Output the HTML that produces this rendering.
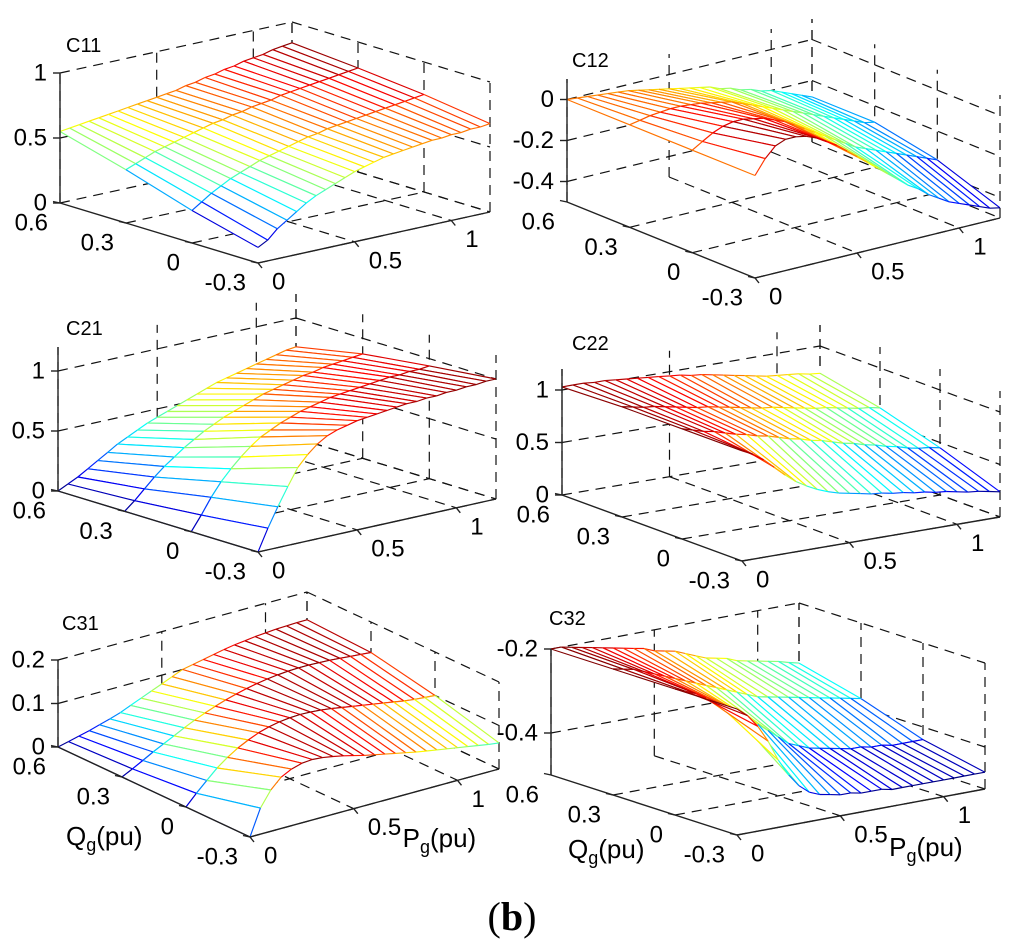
<!DOCTYPE html>
<html><head><meta charset="utf-8"><style>
html,body{margin:0;padding:0;background:#fff;}
svg{display:block;font-family:"Liberation Sans",Arial,sans-serif;}
</style></head><body>
<svg id="fig" width="1024" height="947" viewBox="0 0 1024 947" xmlns="http://www.w3.org/2000/svg">
<rect x="0" y="0" width="1024" height="947" fill="#fff"/>
<text x="512" y="930" text-anchor="middle" font-family="Liberation Serif, serif" font-size="40">(<tspan font-weight="bold">b</tspan>)</text>
</svg>
<script>
const P_VALUES = [0,0.05,0.1,0.15,0.2,0.25,0.3,0.35,0.4,0.45,0.5,0.55,0.6,0.65,0.7,0.75,0.8,0.85,0.9,0.95,1.0,1.05,1.1,1.15,1.2];
const Q_VALUES = [0.6,0.3,0,-0.3];
const P_TICKS = [0,0.5,1];
const P_TICK_LABELS = ['0','0.5','1'];
const Q_TICKS = [0.6,0.3,0,-0.3];
const Q_TICK_LABELS = ['0.6','0.3','0','-0.3'];

const C11_Z = [
[0.55,0.56,0.57,0.58,0.59,0.60,0.61,0.62,0.63,0.64,0.65,0.66,0.67,0.69,0.70,0.72,0.73,0.75,0.76,0.78,0.79,0.80,0.82,0.83,0.84],
[0.41,0.44,0.47,0.50,0.52,0.54,0.56,0.58,0.60,0.62,0.63,0.65,0.66,0.68,0.69,0.70,0.72,0.73,0.74,0.75,0.76,0.77,0.78,0.79,0.80],
[0.25,0.30,0.35,0.39,0.43,0.46,0.49,0.52,0.54,0.56,0.58,0.60,0.62,0.63,0.65,0.66,0.67,0.68,0.69,0.70,0.71,0.72,0.73,0.74,0.75],
[0.12,0.16,0.23,0.28,0.33,0.38,0.42,0.45,0.48,0.51,0.54,0.56,0.58,0.60,0.61,0.62,0.63,0.64,0.65,0.65,0.66,0.66,0.67,0.67,0.68]];
const C12_Z = [
[0,-0.005,-0.01,-0.015,-0.02,-0.025,-0.03,-0.04,-0.05,-0.06,-0.07,-0.08,-0.09,-0.10,-0.11,-0.13,-0.14,-0.16,-0.17,-0.19,-0.20,-0.22,-0.24,-0.26,-0.28],
[0,0.01,0.02,0.025,0.03,0.03,0.025,0.02,0.01,0,-0.01,-0.03,-0.05,-0.07,-0.09,-0.11,-0.13,-0.15,-0.17,-0.19,-0.21,-0.23,-0.25,-0.27,-0.28],
[0,0.03,0.06,0.08,0.09,0.09,0.08,0.07,0.05,0.03,0,-0.03,-0.06,-0.09,-0.12,-0.15,-0.18,-0.20,-0.22,-0.24,-0.26,-0.28,-0.30,-0.32,-0.34],
[0,0.07,0.12,0.14,0.14,0.13,0.11,0.08,0.05,0.01,-0.03,-0.07,-0.11,-0.15,-0.19,-0.23,-0.26,-0.30,-0.33,-0.36,-0.38,-0.40,-0.42,-0.44,-0.45]];
const C21_Z = [
[0,0.04,0.08,0.13,0.18,0.23,0.28,0.32,0.36,0.40,0.43,0.46,0.49,0.52,0.55,0.58,0.61,0.63,0.65,0.67,0.69,0.71,0.73,0.75,0.76],
[0,0.07,0.15,0.23,0.30,0.36,0.42,0.47,0.52,0.56,0.60,0.63,0.66,0.69,0.72,0.74,0.76,0.78,0.80,0.81,0.83,0.84,0.85,0.86,0.87],
[0,0.12,0.25,0.36,0.45,0.53,0.60,0.66,0.70,0.74,0.77,0.80,0.82,0.84,0.86,0.87,0.88,0.89,0.90,0.91,0.92,0.92,0.93,0.93,0.94],
[0,0.18,0.34,0.49,0.63,0.72,0.79,0.84,0.87,0.89,0.91,0.92,0.93,0.94,0.95,0.96,0.96,0.97,0.97,0.98,0.98,0.99,0.99,1.0,1.0]];
const C22_Z = [
[1.03,1.03,1.03,1.02,1.02,1.01,1.0,0.99,0.98,0.97,0.96,0.95,0.93,0.92,0.90,0.88,0.86,0.84,0.82,0.80,0.79,0.78,0.77,0.75,0.74],
[1.05,1.03,1.01,1.0,0.98,0.96,0.94,0.92,0.91,0.89,0.87,0.85,0.83,0.81,0.80,0.78,0.76,0.74,0.72,0.71,0.69,0.67,0.65,0.64,0.62],
[1.05,1.02,0.99,0.97,0.94,0.91,0.89,0.86,0.84,0.81,0.78,0.76,0.73,0.71,0.68,0.65,0.63,0.60,0.58,0.55,0.53,0.50,0.48,0.47,0.45],
[1.05,1.0,0.93,0.84,0.75,0.67,0.61,0.56,0.52,0.49,0.47,0.45,0.43,0.42,0.40,0.39,0.37,0.36,0.34,0.33,0.31,0.29,0.28,0.26,0.24]];
const C31_Z = [
[0,0.006,0.012,0.018,0.025,0.032,0.04,0.05,0.06,0.07,0.08,0.09,0.10,0.105,0.11,0.115,0.12,0.124,0.127,0.13,0.132,0.134,0.135,0.136,0.136],
[0,0.012,0.025,0.038,0.05,0.062,0.074,0.085,0.095,0.104,0.112,0.119,0.125,0.13,0.134,0.137,0.139,0.14,0.14,0.139,0.138,0.136,0.134,0.132,0.13],
[0,0.025,0.048,0.07,0.088,0.103,0.115,0.125,0.132,0.137,0.14,0.141,0.14,0.138,0.135,0.131,0.127,0.123,0.119,0.115,0.111,0.107,0.104,0.102,0.10],
[0,0.06,0.095,0.118,0.13,0.137,0.139,0.137,0.133,0.128,0.122,0.116,0.111,0.106,0.101,0.096,0.091,0.087,0.083,0.079,0.075,0.071,0.067,0.063,0.06]];
const C32_Z = [
[-0.2,-0.2,-0.205,-0.21,-0.215,-0.22,-0.225,-0.23,-0.235,-0.24,-0.25,-0.255,-0.26,-0.27,-0.28,-0.29,-0.295,-0.30,-0.31,-0.315,-0.32,-0.325,-0.33,-0.337,-0.343],
[-0.2,-0.205,-0.21,-0.22,-0.23,-0.24,-0.25,-0.26,-0.27,-0.28,-0.29,-0.30,-0.31,-0.32,-0.33,-0.335,-0.34,-0.345,-0.35,-0.355,-0.36,-0.365,-0.37,-0.375,-0.38],
[-0.2,-0.21,-0.22,-0.235,-0.25,-0.265,-0.28,-0.30,-0.32,-0.34,-0.36,-0.38,-0.39,-0.40,-0.405,-0.41,-0.415,-0.42,-0.42,-0.425,-0.425,-0.43,-0.43,-0.43,-0.43],
[-0.2,-0.22,-0.25,-0.29,-0.34,-0.38,-0.41,-0.43,-0.44,-0.445,-0.45,-0.45,-0.455,-0.455,-0.455,-0.46,-0.46,-0.46,-0.46,-0.46,-0.46,-0.46,-0.46,-0.46,-0.46]];

const Z_TICKS_1 = [0,0.5,1];
const Z_LABELS_1 = ['0','0.5','1'];
const Z_TICKS_2 = [-0.4,-0.2,0];
const Z_LABELS_2 = ['-0.4','-0.2','0'];
const Z_TICKS_5 = [0,0.1,0.2];
const Z_LABELS_5 = ['0','0.1','0.2'];
const Z_TICKS_6 = [-0.4,-0.2];
const Z_LABELS_6 = ['-0.4','-0.2'];

const panels = [
 {id:'c11',title:'C11',Z:C11_Z,zt:Z_TICKS_1,zl:Z_LABELS_1,L:[60,203],F:[258,263],R:[490,212],zmin:0,zs:130,ztop:1,tp:[66,46]},
 {id:'c12',title:'C12',Z:C12_Z,zt:Z_TICKS_2,zl:Z_LABELS_2,L:[567,202],F:[755,278],R:[1000,218],zmin:-0.5,zs:205,ztop:0.1,tp:[572,61]},
 {id:'c21',title:'C21',Z:C21_Z,zt:Z_TICKS_1,zl:Z_LABELS_1,L:[58,491],F:[258,552],R:[496,499],zmin:0,zs:120,ztop:1.2,tp:[66,329]},
 {id:'c22',title:'C22',Z:C22_Z,zt:Z_TICKS_1,zl:Z_LABELS_1,L:[562,495],F:[742,561],R:[1000,517],zmin:0,zs:105,ztop:1.2,tp:[572,344]},
 {id:'c31',title:'C31',Z:C31_Z,zt:Z_TICKS_5,zl:Z_LABELS_5,L:[58,747],F:[250,837],R:[499,769],zmin:0,zs:435,ztop:0.2,tp:[62,624],axisLabels:true},
 {id:'c32',title:'C32',Z:C32_Z,zt:Z_TICKS_6,zl:Z_LABELS_6,L:[551,775],F:[737,835],R:[985,789],zmin:-0.5,zs:420,ztop:-0.2,tp:[549,619],axisLabels:true}
];

const NS='http://www.w3.org/2000/svg';
const svg=document.getElementById('fig');
function mk(tag,parent){const e=document.createElementNS(NS,tag);parent.appendChild(e);return e;}
function jet(t){t=Math.max(0,Math.min(1,t));const c=x=>Math.round(255*Math.max(0,Math.min(1,x)));
 return 'rgb('+c(1.5-Math.abs(4*t-3))+','+c(1.5-Math.abs(4*t-2))+','+c(1.5-Math.abs(4*t-1))+')';}
const PMAX=1.2,QMAX=0.6,QMIN=-0.3;

panels.forEach(pn=>{
 const g=mk('g',svg);
 
 
 const proj=(P,Q,z)=>{const u=(QMAX-Q)/(QMAX-QMIN),v=P/PMAX;
  return [pn.L[0]+u*(pn.F[0]-pn.L[0])+v*(pn.R[0]-pn.F[0]), pn.L[1]+u*(pn.F[1]-pn.L[1])+v*(pn.R[1]-pn.F[1])-(z-pn.zmin)*pn.zs];};
 const line=(a,b,parent,stroke,dash,w)=>{const l=mk('line',parent);l.setAttribute('x1',a[0].toFixed(1));l.setAttribute('y1',a[1].toFixed(1));l.setAttribute('x2',b[0].toFixed(1));l.setAttribute('y2',b[1].toFixed(1));l.setAttribute('stroke',stroke);l.setAttribute('stroke-width',w||1);if(dash)l.setAttribute('stroke-dasharray',dash);return l;};
 const grid=mk('g',g);
 
 
 const D='10 7', GC='#111', GW=1.2;
 const pw=P_TICKS.concat([PMAX]);
 pw.forEach(P=>{ if(P>0){line(proj(P,QMAX,pn.zmin),proj(P,QMIN,pn.zmin),grid,GC,D,GW);} line(proj(P,QMAX,pn.zmin),proj(P,QMAX,pn.ztop),grid,GC,D,GW);});
 Q_TICKS.forEach(Q=>{ if(Q<QMAX){line(proj(0,Q,pn.zmin),proj(PMAX,Q,pn.zmin),grid,GC,D,GW);} line(proj(PMAX,Q,pn.zmin),proj(PMAX,Q,pn.ztop),grid,GC,D,GW);});
 pn.zt.forEach(z=>{ line(proj(0,QMAX,z),proj(PMAX,QMAX,z),grid,GC,D,GW); line(proj(PMAX,QMAX,z),proj(PMAX,QMIN,z),grid,GC,D,GW);});
 let zmn=Infinity,zmx=-Infinity;
 pn.Z.forEach(r=>r.forEach(z=>{zmn=Math.min(zmn,z);zmx=Math.max(zmx,z);}));
 const col=z=>jet((z-zmn)/(zmx-zmn));
 const surf=mk('g',g);
 
 
 const cells=[];
 for(let i=0;i<Q_VALUES.length-1;i++)for(let j=0;j<P_VALUES.length-1;j++){
  const u=((QMAX-(Q_VALUES[i]+Q_VALUES[i+1])/2)/(QMAX-QMIN)), v=((P_VALUES[j]+P_VALUES[j+1])/2)/PMAX;
  cells.push({i,j,d:v+(1-u)});}
 cells.sort((a,b)=>b.d-a.d);
 cells.forEach(c=>{
  const {i,j}=c;
  const pts=[[i,j],[i,j+1],[i+1,j+1],[i+1,j]].map(([a,b])=>({p:proj(P_VALUES[b],Q_VALUES[a],pn.Z[a][b]),z:pn.Z[a][b]}));
  const poly=mk('polygon',surf);
  poly.setAttribute('points',pts.map(o=>o.p[0].toFixed(1)+','+o.p[1].toFixed(1)).join(' '));
  poly.setAttribute('fill','#fff');
  for(let k=0;k<4;k++){const a=pts[k],b=pts[(k+1)%4];
   const l=line(a.p,b.p,surf,col((a.z+b.z)/2),null,1.15);
   
   }
 });
 const ax=mk('g',g);
 
 
 const AC='#222';
 line(proj(0,QMAX,pn.zmin),proj(0,QMAX,pn.ztop),ax,AC,null,1.4);
 line(proj(0,QMAX,pn.zmin),proj(0,QMIN,pn.zmin),ax,AC,null,1.4);
 line(proj(0,QMIN,pn.zmin),proj(PMAX,QMIN,pn.zmin),ax,AC,null,1.4);
 const txt=(x,y,s,anchor,size,name)=>{const t=mk('text',ax);t.setAttribute('x',x.toFixed(1));t.setAttribute('y',y.toFixed(1));t.setAttribute('text-anchor',anchor);t.setAttribute('font-size',size);t.setAttribute('dominant-baseline','central');t.textContent=s;
  
  
  return t;};
 pn.zt.forEach((z,k)=>{const p=proj(0,QMAX,z);line([p[0]-7,p[1]],p,ax,AC,null,1.4);txt(p[0]-13,p[1],pn.zl[k],'end',24,'z-tick-label');});
 Q_TICKS.forEach((Q,k)=>{const p=proj(0,Q,pn.zmin);line(p,[p[0]-7,p[1]-1.5],ax,AC,null,1.4);txt(p[0]-12,p[1]+20,Q_TICK_LABELS[k],'end',24,'q-tick-label');});
 P_TICKS.forEach((P,k)=>{const p=proj(P,QMIN,pn.zmin);line(p,[p[0]+4,p[1]+5],ax,AC,null,1.4);txt(p[0]+14,p[1]+19,P_TICK_LABELS[k],'start',24,'p-tick-label');});
 txt(pn.tp[0],pn.tp[1],pn.title,'start',20,'subplot-title');
 if(pn.axisLabels){
  const qp=proj(0,0.15,pn.zmin), pp=proj(0.62,QMIN,pn.zmin);
  const q=txt(qp[0]-88+(pn.id==='c32'?12:0),qp[1]+44,'','start',26,'q-axis-title');
  q.innerHTML='Q<tspan font-size="18" dy="9">g</tspan><tspan dy="-9">(pu)</tspan>';
  const pl=txt(pp[0]+24,pp[1]+36,'','start',26,'p-axis-title');
  pl.innerHTML='P<tspan font-size="18" dy="9">g</tspan><tspan dy="-9">(pu)</tspan>';
 }
});
</script>
</body></html>
